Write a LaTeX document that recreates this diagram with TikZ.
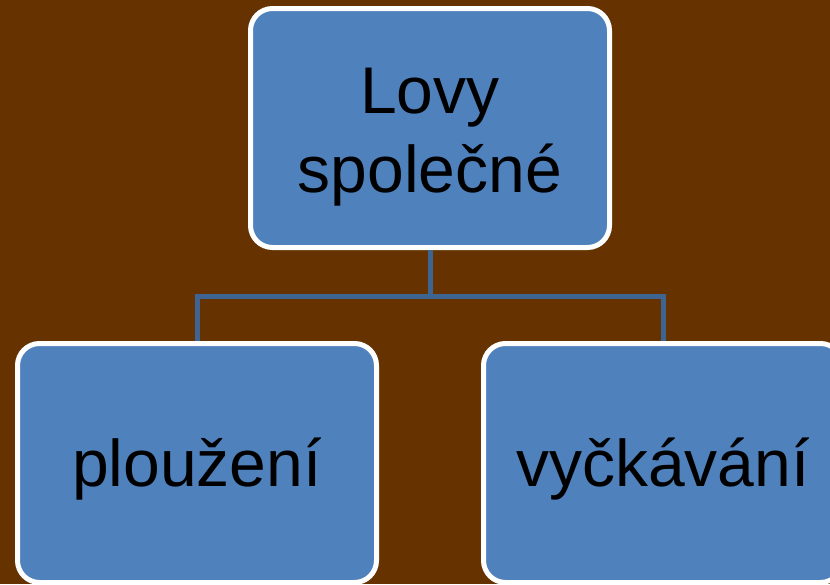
\documentclass[tikz,border=0pt]{standalone}
\usepackage{fontspec}
\setmainfont{Liberation Sans}
\definecolor{backdrop}{HTML}{663300}
\definecolor{boxblue}{HTML}{4F81BD}
\definecolor{linkblue}{HTML}{3E6491}
\tikzset{
  card/.style={draw=white, line width=5pt, fill=boxblue, rounded corners=22pt,
    minimum width=359pt, minimum height=239pt, inner sep=0pt, align=center,
    font=\fontsize{66}{79}\selectfont},
  link/.style={draw=linkblue, line width=5pt}
}
\begin{document}
\begin{tikzpicture}[x=1pt,y=-1pt]

% background
\fill[backdrop] (0,0) rectangle (830,584);
\useasboundingbox (0,0) rectangle (830,584);

\node[card, text height=142pt, text depth=14pt] (hunt) at (430,128) {Lovy\\společné};
\node[card, text height=60pt, text depth=14pt] (creep) at (197,463) {ploužení};
\node[card, text height=60pt, text depth=14pt] (wait) at (663,463) {vyčkávání};

% tree lines
\coordinate (fork) at (430,296);
\draw[link] (hunt.south) -- (fork) -| (creep.north);
\draw[link] (fork) -| (wait.north);
\end{tikzpicture}
\end{document}
